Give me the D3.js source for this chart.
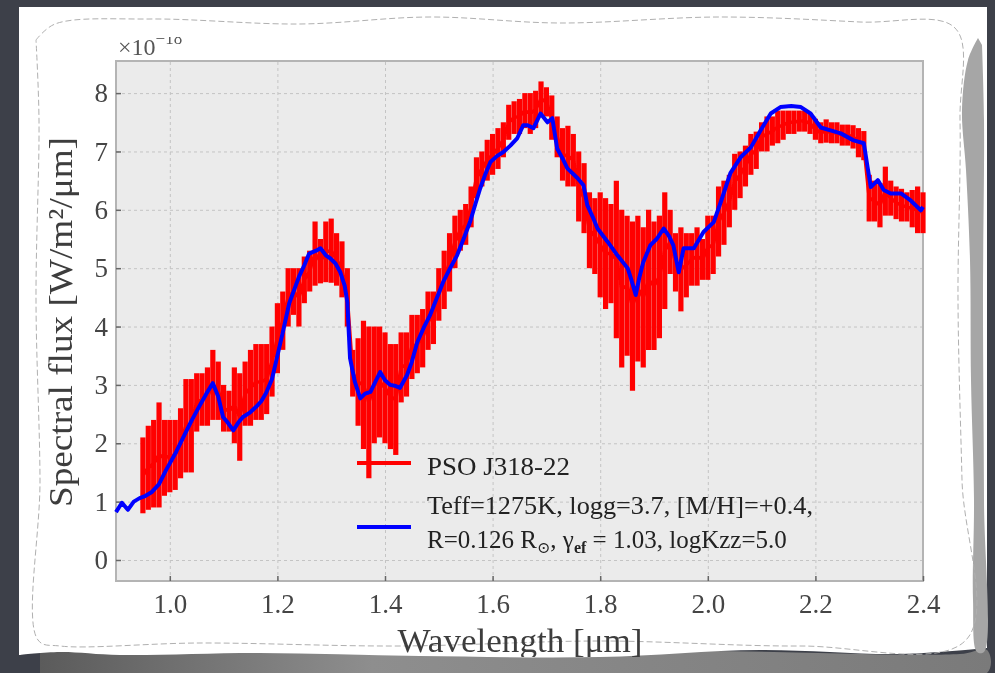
<!DOCTYPE html>
<html>
<head>
<meta charset="utf-8">
<script src="https://cdn.jsdelivr.net/npm/d3@7"></script>
<style>
  html, body { margin: 0; padding: 0; background: #3d4049; }
  svg { display: block; }
</style>
</head>
<body>
<div id="chart-container"></div>
<script>
// ---------------------------------------------------------------
// DATA (flux in units of 1e-18 W/m2/um)
// ---------------------------------------------------------------
const MODEL_WAVE = [0.900, 0.911, 0.922, 0.933, 0.944, 0.955, 0.966, 0.980, 0.993, 1.010,
  1.025, 1.040, 1.054, 1.068, 1.080, 1.090, 1.099, 1.108, 1.118, 1.127, 1.136, 1.148, 1.160,
  1.170, 1.179, 1.190, 1.198, 1.210, 1.222, 1.232, 1.240, 1.250, 1.259, 1.272, 1.280, 1.290,
  1.298, 1.308, 1.317, 1.325, 1.330, 1.335, 1.344, 1.354, 1.363, 1.373, 1.382, 1.391, 1.400,
  1.410, 1.420, 1.428, 1.441, 1.450, 1.460, 1.472, 1.484, 1.496, 1.508, 1.521, 1.534, 1.546,
  1.558, 1.568, 1.577, 1.586, 1.596, 1.608, 1.620, 1.633, 1.646, 1.657, 1.665, 1.676, 1.689,
  1.702, 1.711, 1.720, 1.730, 1.739, 1.758, 1.769, 1.776, 1.786, 1.795, 1.814, 1.832, 1.851,
  1.858, 1.866, 1.873, 1.880, 1.893, 1.905, 1.918, 1.928, 1.936, 1.946, 1.955, 1.974, 1.992,
  2.011, 2.024, 2.042, 2.061, 2.080, 2.098, 2.117, 2.135, 2.155, 2.173, 2.191, 2.210, 2.228,
  2.247, 2.271, 2.290, 2.297, 2.303, 2.316, 2.327, 2.340, 2.359, 2.377, 2.396, 2.400];
const MODEL_FLUX = [0.82, 0.98, 0.86, 1.00, 1.06, 1.10, 1.16, 1.30, 1.54, 1.82,
  2.10, 2.38, 2.62, 2.85, 3.03, 2.80, 2.45, 2.35, 2.22, 2.35, 2.45, 2.52, 2.62,
  2.72, 2.86, 3.10, 3.42, 3.90, 4.40, 4.65, 4.85, 5.05, 5.25, 5.30, 5.34, 5.22,
  5.17, 5.08, 4.93, 4.70, 4.42, 3.46, 3.05, 2.77, 2.85, 2.88, 3.05, 3.22, 3.08,
  3.00, 2.98, 2.95, 3.17, 3.40, 3.73, 3.98, 4.20, 4.48, 4.76, 5.00, 5.22, 5.50,
  5.79, 6.10, 6.37, 6.60, 6.82, 6.92, 6.99, 7.10, 7.23, 7.45, 7.45, 7.40, 7.65,
  7.50, 7.57, 7.05, 6.88, 6.71, 6.54, 6.42, 6.08, 5.88, 5.68, 5.45, 5.22, 5.00,
  4.80, 4.54, 4.85, 5.10, 5.39, 5.50, 5.68, 5.55, 5.39, 4.93, 5.34, 5.34, 5.62,
  5.79, 6.13, 6.63, 6.90, 7.07, 7.36, 7.65, 7.76, 7.78, 7.76, 7.65, 7.41, 7.36,
  7.31, 7.19, 7.14, 6.73, 6.39, 6.51, 6.34, 6.28, 6.28, 6.16, 5.99, 6.05];

const DATA_WAVE = [0.95, 0.96, 0.97, 0.98, 0.99, 1.00, 1.01, 1.02, 1.03, 1.04, 1.05, 1.06,
  1.07, 1.08, 1.09, 1.10, 1.11, 1.12, 1.13, 1.14, 1.15, 1.16, 1.17, 1.18, 1.19, 1.20, 1.21,
  1.22, 1.23, 1.24, 1.25, 1.26, 1.27, 1.28, 1.29, 1.30, 1.31, 1.32, 1.33, 1.34, 1.35, 1.36,
  1.37, 1.38, 1.39, 1.40, 1.41, 1.42, 1.43, 1.44, 1.45, 1.46, 1.47, 1.48, 1.49, 1.50, 1.51,
  1.52, 1.53, 1.54, 1.55, 1.56, 1.57, 1.58, 1.59, 1.60, 1.61, 1.62, 1.63, 1.64, 1.65, 1.66,
  1.67, 1.68, 1.69, 1.70, 1.71, 1.72, 1.73, 1.74, 1.75, 1.76, 1.77, 1.78, 1.79, 1.80, 1.81,
  1.82, 1.83, 1.84, 1.85, 1.86, 1.87, 1.88, 1.89, 1.90, 1.91, 1.92, 1.93, 1.94, 1.95, 1.96,
  1.97, 1.98, 1.99, 2.00, 2.01, 2.02, 2.03, 2.04, 2.05, 2.06, 2.07, 2.08, 2.09, 2.10, 2.11,
  2.12, 2.13, 2.14, 2.15, 2.16, 2.17, 2.18, 2.19, 2.20, 2.21, 2.22, 2.23, 2.24, 2.25, 2.26,
  2.27, 2.28, 2.29, 2.30, 2.31, 2.32, 2.33, 2.34, 2.35, 2.36, 2.37, 2.38, 2.39, 2.40];
const DATA_FLUX = [1.45, 1.58, 1.65, 1.80, 1.75, 1.78, 1.80, 2.00, 2.30, 2.30, 2.70, 2.75,
  2.80, 3.00, 2.90, 2.60, 2.55, 2.65, 2.45, 2.85, 2.95, 3.05, 3.05, 3.10, 3.40, 3.80, 4.10,
  4.50, 4.60, 4.50, 4.80, 4.95, 5.25, 5.12, 5.28, 5.30, 5.15, 4.98, 4.50, 3.20, 3.05, 3.00,
  2.70, 3.00, 3.05, 2.95, 2.80, 2.75, 3.30, 3.35, 3.65, 3.70, 3.80, 4.10, 4.15, 4.55, 4.80,
  5.10, 5.45, 5.65, 5.75, 6.05, 6.55, 6.70, 6.85, 6.95, 7.05, 7.20, 7.50, 7.58, 7.60, 7.70,
  7.65, 7.72, 7.90, 7.85, 7.58, 7.25, 6.95, 6.92, 6.85, 6.40, 6.20, 5.65, 5.55, 5.40, 5.25,
  5.25, 5.15, 4.65, 4.70, 4.35, 4.65, 4.50, 4.80, 4.70, 4.85, 5.30, 5.45, 5.10, 4.98, 5.05,
  5.15, 5.20, 5.15, 5.35, 5.40, 5.80, 5.95, 6.15, 6.48, 6.60, 6.75, 6.95, 7.02, 7.25, 7.30,
  7.35, 7.42, 7.45, 7.50, 7.50, 7.52, 7.52, 7.48, 7.38, 7.32, 7.35, 7.32, 7.32, 7.28, 7.28,
  7.25, 7.15, 7.10, 6.20, 6.15, 6.08, 6.32, 6.20, 6.12, 6.08, 6.05, 6.02, 6.00, 5.95];
const DATA_ERR = [0.65, 0.72, 0.75, 0.90, 0.65, 0.62, 0.60, 0.60, 0.80, 0.80, 0.50, 0.45,
  0.50, 0.60, 0.50, 0.40, 0.35, 0.65, 0.75, 0.55, 0.65, 0.65, 0.65, 0.60, 0.60, 0.60, 0.50,
  0.50, 0.40, 0.50, 0.40, 0.35, 0.55, 0.38, 0.52, 0.55, 0.45, 0.48, 0.50, 0.40, 0.75, 1.10,
  1.30, 1.00, 0.95, 0.95, 0.90, 0.95, 0.60, 0.55, 0.55, 0.50, 0.50, 0.50, 0.45, 0.45, 0.50,
  0.50, 0.45, 0.35, 0.35, 0.35, 0.35, 0.30, 0.35, 0.35, 0.35, 0.30, 0.30, 0.28, 0.30, 0.30,
  0.35, 0.32, 0.30, 0.25, 0.38, 0.35, 0.45, 0.52, 0.45, 0.60, 0.60, 0.65, 0.65, 0.90, 0.95,
  0.85, 1.35, 1.35, 1.20, 1.45, 1.25, 1.20, 1.20, 1.10, 1.05, 1.00, 0.55, 0.50, 0.72, 0.55,
  0.45, 0.50, 0.35, 0.55, 0.50, 0.60, 0.55, 0.45, 0.48, 0.40, 0.35, 0.35, 0.32, 0.25, 0.30,
  0.25, 0.28, 0.25, 0.20, 0.20, 0.18, 0.18, 0.18, 0.18, 0.18, 0.20, 0.18, 0.18, 0.18, 0.18,
  0.20, 0.25, 0.25, 0.40, 0.35, 0.38, 0.42, 0.30, 0.28, 0.28, 0.25, 0.32, 0.40, 0.35];

const X_TICKS = [1.0, 1.2, 1.4, 1.6, 1.8, 2.0, 2.2, 2.4];
const Y_TICKS = [0, 1, 2, 3, 4, 5, 6, 7, 8];
const DATA_LABEL = "PSO J318-22";

// ---------------------------------------------------------------
// LAYOUT
// ---------------------------------------------------------------
const WIDTH = 995;
const HEIGHT = 673;
const PLOT = {left: 116, right: 923, top: 61, bottom: 581};

const X_SCALE = d3.scaleLinear().domain([0.9, 2.4]).range([PLOT.left, PLOT.right]);
const Y_SCALE = d3.scaleLinear().domain([-0.36, 8.55]).range([PLOT.bottom, PLOT.top]);

const FONT = "'Liberation Serif', 'DejaVu Serif', serif";

const SVG_SELECTION = d3.select("#chart-container").append("svg")
  .attr("width", WIDTH)
  .attr("height", HEIGHT);

const DEFS = SVG_SELECTION.append("defs");
DEFS.append("filter").attr("id", "soft")
  .append("feGaussianBlur").attr("stdDeviation", 0.6);
DEFS.append("clipPath").attr("id", "chart-clip")
  .append("rect").attr("x", 19).attr("y", 37).attr("width", 968).attr("height", 620);

const SHADOW_GRAD = DEFS.append("linearGradient").attr("id", "shadow-grad");
SHADOW_GRAD.append("stop").attr("offset", "0%").attr("stop-color", "#5b5b5b");
SHADOW_GRAD.append("stop").attr("offset", "35%").attr("stop-color", "#8e8e8e");
SHADOW_GRAD.append("stop").attr("offset", "100%").attr("stop-color", "#7a7a7a");

// ---------------------------------------------------------------
// PAPER (the torn sheet the chart is printed on)
// ---------------------------------------------------------------
const PAPER_LINE = d3.line().curve(d3.curveCatmullRom);

SVG_SELECTION.append("rect")
  .attr("width", WIDTH).attr("height", HEIGHT).attr("fill", "#3d4049");

// bottom shadow
SVG_SELECTION.append("path")
  .attr("d", PAPER_LINE([[40, 652], [200, 650], [420, 655], [700, 651], [960, 654], [987, 650],
    [987, 673], [40, 673]]) + "Z")
  .attr("fill", "url(#shadow-grad)");

// paper sheet
SVG_SELECTION.append("path")
  .attr("d", "M19,7 L987,7 L987,648 " +
    PAPER_LINE([[987, 648], [900, 654], [760, 650], [600, 657], [420, 656], [260, 653],
      [120, 655], [60, 652], [19, 655]]).slice(1) + " Z")
  .attr("fill", "#ffffff");

// grey torn band on the right side
SVG_SELECTION.append("path")
  .attr("d", PAPER_LINE([[978, 38], [968, 60], [962, 110], [966, 170], [970, 260], [971, 380],
    [974, 500], [973, 600], [977, 652], [984, 652], [984, 500], [983, 300], [984, 120],
    [982, 45]]) + "Z")
  .attr("fill", "#a6a6a6");

// dashed tear line
SVG_SELECTION.append("path")
  .attr("d", PAPER_LINE([[36, 40], [55, 24], [150, 19], [300, 24], [430, 17], [560, 23],
    [720, 17], [860, 22], [955, 28], [960, 120], [958, 300], [962, 480], [966, 640],
    [800, 646], [600, 641], [400, 646], [200, 643], [60, 646], [38, 640], [40, 480],
    [36, 300], [39, 120], [36, 40]]))
  .attr("fill", "none")
  .attr("stroke", "#b0b0b0")
  .attr("stroke-width", 1)
  .attr("stroke-dasharray", "6,3");

// ---------------------------------------------------------------
// CHART
// ---------------------------------------------------------------
const CHART = SVG_SELECTION.append("g")
  .attr("clip-path", "url(#chart-clip)")
  .append("g")
  .attr("filter", "url(#soft)");

// plot background
CHART.append("rect")
  .attr("x", PLOT.left).attr("y", PLOT.top)
  .attr("width", PLOT.right - PLOT.left).attr("height", PLOT.bottom - PLOT.top)
  .attr("fill", "#ebebeb");

// grid
CHART.append("g")
  .attr("transform", `translate(0,${PLOT.bottom})`)
  .call(d3.axisBottom(X_SCALE).tickValues(X_TICKS).tickSize(-(PLOT.bottom - PLOT.top)).tickFormat(""))
  .call(g => g.select(".domain").remove())
  .call(g => g.selectAll("line").attr("stroke", "#c4c4c4").attr("stroke-dasharray", "3,3"));
CHART.append("g")
  .attr("transform", `translate(${PLOT.left},0)`)
  .call(d3.axisLeft(Y_SCALE).tickValues(Y_TICKS).tickSize(-(PLOT.right - PLOT.left)).tickFormat(""))
  .call(g => g.select(".domain").remove())
  .call(g => g.selectAll("line").attr("stroke", "#c4c4c4").attr("stroke-dasharray", "3,3"));

// frame
CHART.append("rect")
  .attr("x", PLOT.left).attr("y", PLOT.top)
  .attr("width", PLOT.right - PLOT.left).attr("height", PLOT.bottom - PLOT.top)
  .attr("fill", "none").attr("stroke", "#b4b4b4").attr("stroke-width", 2);

// axes with tick labels
const X_AXIS = CHART.append("g")
  .attr("transform", `translate(0,${PLOT.bottom})`)
  .call(d3.axisBottom(X_SCALE).tickValues(X_TICKS).tickSize(-5).tickPadding(13)
    .tickFormat(d3.format(".1f")));
const Y_AXIS = CHART.append("g")
  .attr("transform", `translate(${PLOT.left},0)`)
  .call(d3.axisLeft(Y_SCALE).tickValues(Y_TICKS).tickSize(-5).tickPadding(8)
    .tickFormat(d3.format("d")));
[X_AXIS, Y_AXIS].forEach(axis => {
  axis.select(".domain").remove();
  axis.selectAll("line").attr("stroke", "#666").attr("stroke-width", 1.5);
  axis.selectAll("text")
    .attr("fill", "#444")
    .style("font-family", FONT)
    .style("font-size", "27px");
});

// observed spectrum with error bars
const DATA_POINTS = DATA_WAVE.map((w, i) => ({w: w, f: DATA_FLUX[i], e: DATA_ERR[i]}));
CHART.append("g").selectAll("line")
  .data(DATA_POINTS)
  .join("line")
  .attr("x1", d => X_SCALE(d.w)).attr("x2", d => X_SCALE(d.w))
  .attr("y1", d => Y_SCALE(d.f - d.e)).attr("y2", d => Y_SCALE(d.f + d.e))
  .attr("stroke", "#ff0000")
  .attr("stroke-width", 5.2);
CHART.append("path")
  .datum(DATA_POINTS)
  .attr("d", d3.line().x(d => X_SCALE(d.w)).y(d => Y_SCALE(d.f)))
  .attr("fill", "none")
  .attr("stroke", "#ff0000")
  .attr("stroke-width", 3.5);

// model spectrum
CHART.append("path")
  .datum(MODEL_WAVE.map((w, i) => [w, MODEL_FLUX[i]]))
  .attr("d", d3.line().x(d => X_SCALE(d[0])).y(d => Y_SCALE(d[1])))
  .attr("fill", "none")
  .attr("stroke", "#0000ff")
  .attr("stroke-width", 4)
  .attr("stroke-linejoin", "round");

// legend
CHART.append("line")
  .attr("x1", 357).attr("x2", 411).attr("y1", 463).attr("y2", 463)
  .attr("stroke", "#ff0000").attr("stroke-width", 4);
CHART.append("line")
  .attr("x1", 357).attr("x2", 411).attr("y1", 527).attr("y2", 527)
  .attr("stroke", "#0000ff").attr("stroke-width", 4);

const LEGEND_TEXT = CHART.append("g")
  .attr("fill", "#222")
  .style("font-family", FONT)
  .style("font-size", "25px");
LEGEND_TEXT.append("text")
  .attr("x", 427).attr("y", 475)
  .attr("textLength", 143).attr("lengthAdjust", "spacingAndGlyphs")
  .text(DATA_LABEL);
LEGEND_TEXT.append("text")
  .attr("x", 427).attr("y", 514)
  .attr("textLength", 386).attr("lengthAdjust", "spacingAndGlyphs")
  .text("Teff=1275K, logg=3.7, [M/H]=+0.4,");
const LINE2 = LEGEND_TEXT.append("text")
  .attr("x", 427).attr("y", 548);
LINE2.append("tspan").text("R=0.126 R");
LINE2.append("tspan").attr("dy", 5).style("font-size", "16px").text("⊙");
LINE2.append("tspan").attr("dy", -5).text(", γ");
LINE2.append("tspan").attr("dy", 5).style("font-size", "16px").style("font-weight", "bold").text("ef");
LINE2.append("tspan").attr("dy", -5).text(" = 1.03, logKzz=5.0");

// axis labels
CHART.append("text")
  .attr("transform", "translate(72,322) rotate(-90)")
  .attr("text-anchor", "middle")
  .attr("fill", "#3c3c3c")
  .attr("textLength", 370).attr("lengthAdjust", "spacingAndGlyphs")
  .style("font-family", FONT)
  .style("font-size", "33px")
  .text("Spectral flux [W/m²/μm]");
CHART.append("text")
  .attr("x", 520).attr("y", 652)
  .attr("text-anchor", "middle")
  .attr("fill", "#3c3c3c")
  .attr("textLength", 245).attr("lengthAdjust", "spacingAndGlyphs")
  .style("font-family", FONT)
  .style("font-size", "33px")
  .text("Wavelength [μm]");

// offset text
const OFFSET = CHART.append("text")
  .attr("x", 118).attr("y", 55)
  .attr("fill", "#555")
  .style("font-family", FONT)
  .style("font-size", "24px");
OFFSET.append("tspan").text("×10");
OFFSET.append("tspan").attr("dy", -11).style("font-size", "17px").text("−18");
</script>
</body>
</html>
